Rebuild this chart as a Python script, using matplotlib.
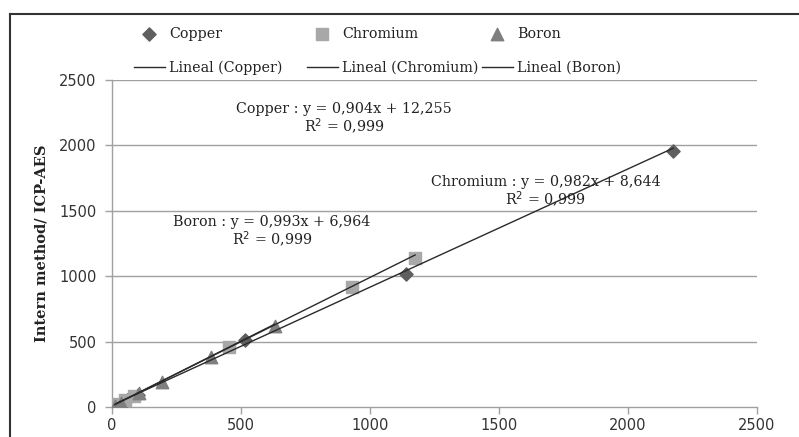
import numpy as np
import matplotlib
matplotlib.use('Agg')
import matplotlib.pyplot as plt
from matplotlib.lines import Line2D

# datos
copper_x = [20, 60, 100, 515, 1140, 2175]
copper_y = [15, 55, 95, 515, 1020, 1960]
chromium_x = [15, 50, 85, 455, 930, 1175]
chromium_y = [20, 50, 85, 460, 915, 1140]
boron_x = [10, 35, 105, 195, 385, 630]
boron_y = [5, 30, 110, 190, 385, 620]

# coeficientes de las rectas (pendiente, ordenada)
fit_copper = (0.904, 12.255)
fit_chromium = (0.982, 8.644)
fit_boron = (0.993, 6.964)

ticks = [0, 500, 1000, 1500, 2000, 2500]

serif = 'DejaVu Serif'
sans = 'DejaVu Sans'

fig = plt.figure(figsize=(7.99, 4.37), dpi=100)
ax = fig.add_axes([112 / 799, 1 - 407 / 437, 645 / 799, 327 / 437])

grid_c = '#a0a0a0'
for t in ticks[1:]:
    ax.axhline(t, color=grid_c, lw=1.0, zorder=0)

# puntos
pts = []
pts.append(ax.scatter(copper_x, copper_y, marker='D', s=45, color='#5f5f5f', zorder=3))
pts.append(ax.scatter(chromium_x, chromium_y, marker='s', s=80, color='#a8a8a8', zorder=3))
pts.append(ax.scatter(boron_x, boron_y, marker='^', s=80, color='#7f7f7f', zorder=3))

# rectas de tendencia
lines = []
for xs, (m, b) in [(copper_x, fit_copper), (chromium_x, fit_chromium), (boron_x, fit_boron)]:
    x = np.array([min(xs), max(xs)])
    lines.append(ax.plot(x, m * x + b, color='#2a2a2a', lw=1.0, zorder=4)[0])

ax.set_xlim(0, 2500)
ax.set_ylim(0, 2500)
ax.set_xticks(ticks)
ax.set_yticks(ticks)
for s in ['top', 'right']:
    ax.spines[s].set_visible(False)
for s in ['left', 'bottom']:
    ax.spines[s].set_color(grid_c)
    ax.spines[s].set_linewidth(1.0)
ax.tick_params(axis='both', colors=grid_c, length=5, width=1.0, labelcolor='#333333',
               labelsize=10.5)
for lab in ax.get_xticklabels() + ax.get_yticklabels():
    lab.set_fontfamily(sans)
ax.tick_params(axis='x', pad=3)
ax.tick_params(axis='y', pad=6)

ax.set_ylabel('Intern method/ ICP-AES', fontfamily=serif, fontweight='bold', fontsize=10.5,
              color='#222222', labelpad=8)

# ecuaciones
txt = dict(fontfamily=serif, fontsize=10.3, color='#222222', ha='center', zorder=5)
ax.text(900, 2100, 'Copper : y = 0,904x + 12,255\nR$^2$ = 0,999', linespacing=1.05, **txt)
ax.text(1680, 1545, 'Chromium : y = 0,982x + 8,644\nR$^2$ = 0,999', linespacing=1.05, **txt)
ax.text(620, 1235, 'Boron : y = 0,993x + 6,964\nR$^2$ = 0,999', linespacing=1.05, **txt)

# leyenda: una columna por elemento, con ancho fijo como en el original
names = ['Copper', 'Chromium', 'Boron']
col_x = [128, 301, 476]
for i in range(3):
    leg = fig.legend([pts[i], lines[i]], [names[i], 'Lineal (' + names[i] + ')'],
                     frameon=False, loc='upper left',
                     bbox_to_anchor=(col_x[i] / 799, 1 - 21 / 437),
                     prop={'family': serif, 'size': 10.3}, handlelength=2.2,
                     handletextpad=0.25, labelspacing=1.4, borderaxespad=0)
    for t in leg.get_texts():
        t.set_color('#222222')

# marco exterior
fig.add_artist(Line2D([10 / 799, 1], [1 - 14 / 437, 1 - 14 / 437], color='#333333', lw=1.5))
fig.add_artist(Line2D([10 / 799, 10 / 799], [0, 1 - 14 / 437], color='#333333', lw=1.5))

fig.savefig('out.png', dpi=100)
